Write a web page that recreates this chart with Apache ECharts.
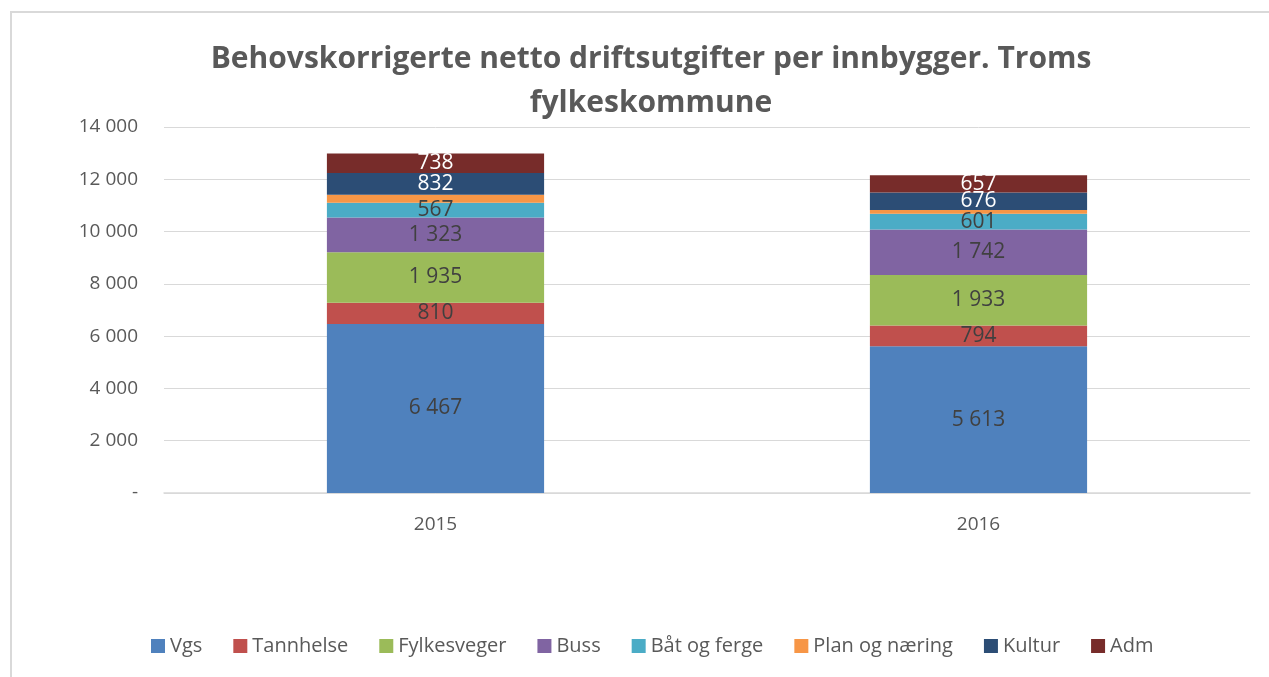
<!DOCTYPE html>
<html>
<head>
<meta charset="utf-8">
<script src="https://cdn.jsdelivr.net/npm/echarts@6/dist/echarts.min.js"></script>
<style>
  html, body { margin: 0; padding: 0; background: #fff; }
  #chart { width: 1269px; height: 677px; }
  .frame { position: absolute; left: 10px; top: 11px; width: 1300px; height: 700px;
           border: 2px solid #d9d9d9; box-sizing: border-box; pointer-events: none; }
</style>
</head>
<body>
<div id="chart"></div>
<div class="frame"></div>
<script>
// årstall
const years = ['2015', '2016'];

// verdier per sektor (kr per innbygger)
const vgs = [6467, 5613];
const tannhelse = [810, 794];
const fylkesveger = [1935, 1933];
const buss = [1323, 1742];
const batOgFerge = [567, 601];
const planOgNaering = [310, 140];   // ikke merket i figuren, anslått
const kultur = [832, 676];
const adm = [738, 657];

const yTicks = [0, 2000, 4000, 6000, 8000, 10000, 12000, 14000];

const fmt = v => v === 0 ? '-' : String(v).replace(/\B(?=(\d{3})+(?!\d))/g, ' ');

const chart = echarts.init(document.getElementById('chart'));

function makeSeries(name, data, color, labelColor, showLabel) {
  return {
    name: name,
    type: 'bar',
    stack: 'total',
    barCategoryGap: '60%',
    data: data,
    itemStyle: { color: color },
    label: {
      show: showLabel,
      position: 'inside',
      formatter: p => fmt(p.value),
      color: labelColor,
      fontSize: 21,
      fontFamily: 'Open Sans'
    }
  };
}

const series = [
  makeSeries('Vgs', vgs, '#4f81bd', '#404040', true),
  makeSeries('Tannhelse', tannhelse, '#c0504d', '#404040', true),
  makeSeries('Fylkesveger', fylkesveger, '#9bbb59', '#404040', true),
  makeSeries('Buss', buss, '#8064a2', '#404040', true),
  makeSeries('Båt og ferge', batOgFerge, '#4bacc6', '#404040', true),
  makeSeries('Plan og næring', planOgNaering, '#f79646', '#404040', false),
  makeSeries('Kultur', kultur, '#2c4d75', '#ffffff', true),
  makeSeries('Adm', adm, '#772c2a', '#ffffff', true)
];

chart.setOption({
  animation: false,
  textStyle: { fontFamily: 'Open Sans' },
  title: {
    text: 'Behovskorrigerte netto driftsutgifter per innbygger. Troms\nfylkeskommune',
    left: 646,
    textAlign: 'center',
    top: 32,
    textStyle: {
      fontSize: 30,
      fontWeight: 'bold',
      color: '#595959',
      lineHeight: 44,
      fontFamily: 'Open Sans'
    }
  },
  legend: {
    bottom: 16,
    left: 146,
    itemWidth: 14,
    itemHeight: 14,
    itemGap: 31,
    icon: 'rect',
    textStyle: { fontSize: 20, color: '#595959' },
    data: series.map(s => s.name)
  },
  grid: { left: 164, right: 19, top: 127, bottom: 184 },
  xAxis: {
    type: 'category',
    data: years,
    axisLine: { lineStyle: { color: '#d9d9d9', width: 1.5 } },
    axisTick: { show: false },
    axisLabel: { fontSize: 19, color: '#595959', margin: 22 }
  },
  yAxis: {
    type: 'value',
    min: yTicks[0],
    max: yTicks[yTicks.length - 1],
    interval: 2000,
    axisLine: { show: false },
    axisTick: { show: false },
    splitLine: { lineStyle: { color: '#d9d9d9', width: 1 } },
    axisLabel: { fontSize: 19, color: '#595959', margin: 26, formatter: fmt }
  },
  series: series
});
</script>
</body>
</html>
